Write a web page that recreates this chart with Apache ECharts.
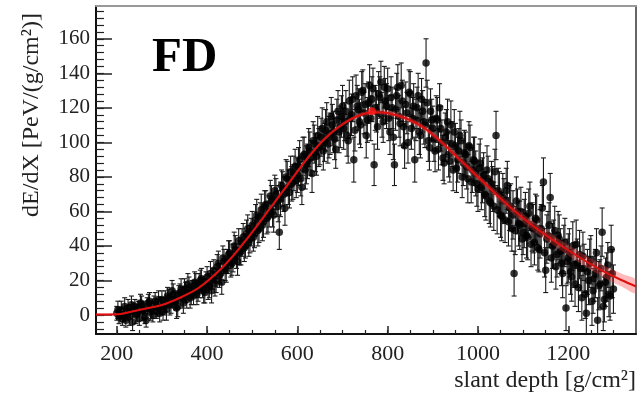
<!DOCTYPE html>
<html>
<head>
<meta charset="utf-8">
<script src="https://cdn.jsdelivr.net/npm/echarts@6/dist/echarts.min.js"></script>
<style>
html,body{margin:0;padding:0;background:#fff;}
#c{width:638px;height:398px;}
</style>
</head>
<body>
<div id="c"></div>
<script>
// slant depth of data points [g/cm2] (set A)
var depthX = [200,205,210,215,220,225,230,235,240,245,250,255,260,265,270,275,280,285,290,295,
300,305,310,315,320,325,330,335,340,345,350,355,360,365,370,375,380,385,390,395,
400,405,410,415,420,425,430,435,440,445,450,455,460,465,470,475,480,485,490,495,
500,505,510,515,520,525,530,535,540,545,550,555,560,565,570,575,580,585,590,595,
600,605,610,615,620,625,630,635,640,645,650,655,660,665,670,675,680,685,690,695,
700,705,710,715,720,725,730,735,740,745,750,755,760,765,770,775,780,785,790,795,
800,805,810,815,820,825,830,835,840,845,850,855,860,865,870,875,880,885,890,895,
900,905,910,915,920,925,930,935,940,945,950,955,960,965,970,975,980,985,990,995,
1000,1005,1010,1015,1020,1025,1030,1035,1040,1045,1050,1055,1060,1065,1070,1075,1080,1085,1090,1095,
1100,1105,1110,1115,1120,1125,1130,1135,1140,1145,1150,1155,1160,1165,1170,1175,1180,1185,1190,1195,
1200,1205,1210,1215,1220,1225,1230,1235,1240,1245,1250,1255,1260,1265,1270,1275,1280,1285,1290,1295,1300];
// dE/dX values [PeV/(g/cm2)] (set A)
var dEdX = [1,-1,3,0,-3,4,2,-4,5,1,-2,6,3,-3,7,2,0,8,4,1,
9,5,3,10,6,12,8,5,13,10,15,9,16,12,11,18,14,20,16,13,
22,17,14,26,20,30,24,33,27,31,36,30,40,34,43,37,45,40,50,44,
52,47,58,50,61,54,64,57,69,60,72,66,48,75,70,80,74,83,77,86,
81,90,74,93,87,97,91,101,94,104,98,108,100,112,103,115,106,96,118,109,
121,112,104,124,116,90,127,119,110,130,122,113,133,125,87,118,128,135,112,124,
131,106,120,87,127,115,133,109,122,100,128,114,90,120,106,125,112,146,101,118,
108,95,113,120,100,88,106,93,110,84,98,90,104,80,94,86,98,77,90,82,
73,88,78,70,84,66,76,63,104,72,58,68,55,75,62,50,24,66,53,60,
48,57,45,63,51,42,55,38,50,77,26,46,68,40,49,35,44,30,38,4,
33,25,40,18,30,35,10,27,1,20,32,14,24,-3,18,48,9,22,12,38,15];
var dEdXErr = [4,4,5,4,4,5,4,5,4,5,4,5,5,4,5,5,4,5,5,5,
5,5,6,5,5,6,5,6,5,6,6,5,6,6,5,6,6,6,6,6,
6,7,7,6,7,7,6,7,7,7,7,7,8,7,7,8,8,7,8,8,
8,8,9,8,9,9,8,9,9,9,9,9,10,9,10,10,10,9,10,10,
10,11,10,10,11,11,10,11,11,11,11,12,11,11,12,11,12,11,12,12,
12,11,12,12,12,13,12,12,13,12,12,13,12,13,12,12,13,12,12,13,
12,13,12,12,13,12,13,12,13,12,13,12,13,12,13,12,13,14,12,13,
13,12,13,14,13,12,13,13,14,12,13,13,14,12,13,13,14,12,13,13,
13,14,13,13,14,13,13,14,14,13,13,14,13,14,13,13,13,14,13,14,
13,14,13,14,14,13,14,13,14,14,13,14,14,13,14,13,14,13,14,13,
14,13,14,13,14,14,13,14,13,14,14,13,14,13,14,14,13,14,13,14,14];
// set B (interleaved points)
var depthX2 = [202.5,207.5,212.5,217.5,222.5,227.5,232.5,237.5,242.5,247.5,252.5,257.5,262.5,267.5,272.5,277.5,282.5,287.5,292.5,297.5,
302.5,307.5,312.5,317.5,322.5,327.5,332.5,337.5,342.5,347.5,352.5,357.5,362.5,367.5,372.5,377.5,382.5,387.5,392.5,397.5,
402.5,407.5,412.5,417.5,422.5,427.5,432.5,437.5,442.5,447.5,452.5,457.5,462.5,467.5,472.5,477.5,482.5,487.5,492.5,497.5,
502.5,507.5,512.5,517.5,522.5,527.5,532.5,537.5,542.5,547.5,552.5,557.5,562.5,567.5,572.5,577.5,582.5,587.5,592.5,597.5,
602.5,607.5,612.5,617.5,622.5,627.5,632.5,637.5,642.5,647.5,652.5,657.5,662.5,667.5,672.5,677.5,682.5,687.5,692.5,697.5,
702.5,707.5,712.5,717.5,722.5,727.5,732.5,737.5,742.5,747.5,752.5,757.5,762.5,767.5,772.5,777.5,782.5,787.5,792.5,797.5,
802.5,807.5,812.5,817.5,822.5,827.5,832.5,837.5,842.5,847.5,852.5,857.5,862.5,867.5,872.5,877.5,882.5,887.5,892.5,897.5,
902.5,907.5,912.5,917.5,922.5,927.5,932.5,937.5,942.5,947.5,952.5,957.5,962.5,967.5,972.5,977.5,982.5,987.5,992.5,997.5,
1002.5,1007.5,1012.5,1017.5,1022.5,1027.5,1032.5,1037.5,1042.5,1047.5,1052.5,1057.5,1062.5,1067.5,1072.5,1077.5,1082.5,1087.5,1092.5,1097.5,
1102.5,1107.5,1112.5,1117.5,1122.5,1127.5,1132.5,1137.5,1142.5,1147.5,1152.5,1157.5,1162.5,1167.5,1172.5,1177.5,1182.5,1187.5,1192.5,1197.5,
1202.5,1207.5,1212.5,1217.5,1222.5,1227.5,1232.5,1237.5,1242.5,1247.5,1252.5,1257.5,1262.5,1267.5,1272.5,1277.5,1282.5,1287.5,1292.5,1297.5];
var dEdX2 = [3,0,-2,5,1,-1,6,3,0,4,7,2,-1,5,8,3,6,2,9,5,
2,8,11,6,14,9,4,12,15,7,13,18,10,15,19,12,17,21,14,19,
16,24,21,18,28,23,19,31,26,35,29,33,38,31,36,42,39,47,42,48,
45,55,49,57,52,63,56,60,66,58,70,63,67,73,62,79,71,76,82,78,
86,79,92,84,89,95,82,99,92,97,103,95,107,99,105,110,102,113,106,115,
108,118,101,114,125,107,121,112,129,117,104,123,114,131,120,109,126,116,132,121,
114,126,103,119,132,111,124,98,117,129,108,121,113,127,104,118,110,123,97,113,
102,114,96,108,91,103,112,89,99,106,85,95,101,88,93,79,97,84,89,76,
85,74,81,69,79,65,73,83,61,70,57,66,72,54,63,58,49,60,52,44,
53,46,59,41,50,56,39,47,62,36,44,52,33,41,28,46,37,24,42,31,
36,22,29,41,16,27,34,12,25,30,8,21,36,17,27,5,19,29,11,24];
var dEdXErr2 = [5,4,4,5,4,5,5,4,5,4,5,5,4,5,5,5,5,4,5,5,
5,6,5,6,6,5,6,5,6,6,6,6,6,5,6,6,7,6,7,6,
7,7,6,7,7,7,7,7,7,8,7,8,8,8,7,8,8,8,8,8,
8,9,9,8,9,9,9,9,9,10,9,9,10,10,10,10,9,10,10,10,
11,10,11,11,10,11,11,11,11,11,11,11,12,11,12,12,12,12,12,12,
12,12,13,12,13,12,12,13,12,12,13,12,13,12,13,13,12,13,12,13,
13,12,13,12,13,13,12,13,12,13,12,13,12,13,13,12,13,13,13,12,
13,13,12,13,13,14,13,12,13,13,14,13,12,13,13,14,13,13,14,13,
14,13,13,14,13,14,13,13,14,13,14,13,13,14,13,14,14,13,14,13,
14,13,14,13,14,14,13,14,13,14,14,13,14,14,13,14,13,14,14,13,
14,14,13,14,14,13,14,14,13,14,14,13,14,14,13,14,14,13,14,14];
// Gaisser-Hillas fit curve
var fitX = [154,200,230,260,300,340,380,420,460,500,540,580,620,660,700,740,770,800,840,880,920,960,1000,1040,1080,1120,1160,1200,1240,1280,1320,1350];
var fitY = [0.3,0.4,1.8,3.5,5.8,10,15.5,24,35,48,62,76,90,102,110.5,116,117.5,117,114,108.5,100,90,80,70,60.5,52,44.5,37.5,31,25,20,16.5];
var fitHalfWidth = [0.5,0.5,0.5,0.5,0.5,0.5,0.6,0.6,0.7,0.7,0.8,0.8,0.9,1,1,1.2,1.3,1.4,1.5,1.6,1.7,1.9,2,2.2,2.4,2.6,2.8,3,3.2,3.5,3.8,4];
var xMajor = [200,400,600,800,1000,1200];
var xMinor = [200,250,300,350,400,450,500,550,600,650,700,750,800,850,900,950,1000,1050,1100,1150,1200,1250,1300];
var yMajor = [0,20,40,60,80,100,120,140,160];
var yMinor = [-8,-4,0,4,8,12,16,20,24,28,32,36,40,44,48,52,56,60,64,68,72,76,80,84,88,92,96,100,104,108,112,116,120,124,128,132,136,140,144,148,152,156,160,164,168,172,176];
var xMaxMarker = [[765,118]];

var points = depthX.map(function(x,i){return [x, dEdX[i], dEdXErr[i]];})
  .concat(depthX2.map(function(x,i){return [x, dEdX2[i], dEdXErr2[i]];}));
var fitLine = fitX.map(function(x,i){return [x, fitY[i]];});
var band = fitX.map(function(x,i){return [x, fitY[i]-fitHalfWidth[i], fitY[i]+fitHalfWidth[i]];});

var FONT = '"Liberation Serif","Times New Roman",serif';
var XMIN = 154, XMAX = 1350, YMIN = -11, YMAX = 179;
function plain(v){return String(v);}

var chart = echarts.init(document.getElementById('c'), null, {renderer:'canvas'});
var option = {
  animation:false,
  backgroundColor:'#fff',
  grid:{left:96,right:2,top:6,bottom:64,containLabel:false},
  xAxis:[
    {type:'value',position:'bottom',min:XMIN,max:XMAX,
     axisLine:{show:true,onZero:false,lineStyle:{color:'#111',width:2}},
     axisTick:{show:true,inside:true,length:8,customValues:xMajor,lineStyle:{color:'#222',width:1.5}},
     axisLabel:{show:true,customValues:xMajor,formatter:plain,fontFamily:FONT,fontSize:22,color:'#222',margin:9},
     splitLine:{show:false}},
    {type:'value',position:'bottom',min:XMIN,max:XMAX,
     axisLine:{show:false,onZero:false},
     axisTick:{show:true,inside:true,length:4,customValues:xMinor,lineStyle:{color:'#222',width:1.2}},
     axisLabel:{show:false},splitLine:{show:false}},
    {type:'value',position:'top',min:XMIN,max:XMAX,
     axisLine:{show:true,onZero:false,lineStyle:{color:'#999',width:2}},
     axisTick:{show:false},axisLabel:{show:false},splitLine:{show:false}}
  ],
  yAxis:[
    {type:'value',position:'left',min:YMIN,max:YMAX,
     axisLine:{show:true,onZero:false,lineStyle:{color:'#111',width:2}},
     axisTick:{show:true,inside:true,length:16,customValues:yMajor,lineStyle:{color:'#222',width:1.5}},
     axisLabel:{show:true,customValues:yMajor,formatter:plain,fontFamily:FONT,fontSize:21,color:'#222',margin:6},
     splitLine:{show:false}},
    {type:'value',position:'left',min:YMIN,max:YMAX,
     axisLine:{show:false,onZero:false},
     axisTick:{show:true,inside:true,length:8,customValues:yMinor,lineStyle:{color:'#222',width:1.2}},
     axisLabel:{show:false},splitLine:{show:false}},
    {type:'value',position:'right',min:YMIN,max:YMAX,
     axisLine:{show:true,onZero:false,lineStyle:{color:'#333',width:1.5}},
     axisTick:{show:false},axisLabel:{show:false},splitLine:{show:false}}
  ],
  series:[
    {type:'custom',name:'err',xAxisIndex:0,yAxisIndex:0,z:2,clip:true,
     data:points,
     encode:{x:0,y:1},
     renderItem:function(params,api){
       var x=api.value(0),y=api.value(1),e=api.value(2);
       var t=api.coord([x,y+e]), b=api.coord([x,y-e]);
       var st={stroke:'#1a1a1a',lineWidth:1.1};
       return {type:'group',children:[
         {type:'line',shape:{x1:t[0],y1:t[1],x2:b[0],y2:b[1]},style:st},
         {type:'line',shape:{x1:t[0]-2.5,y1:t[1],x2:t[0]+2.5,y2:t[1]},style:st},
         {type:'line',shape:{x1:b[0]-2.5,y1:b[1],x2:b[0]+2.5,y2:b[1]},style:st}
       ]};
     }},
    {type:'scatter',name:'data',xAxisIndex:0,yAxisIndex:0,z:3,
     data:points.map(function(p){return [p[0],p[1]];}),
     symbol:'circle',symbolSize:7.5,itemStyle:{color:'#000'}},
    {type:'custom',name:'band',xAxisIndex:0,yAxisIndex:0,z:4,clip:true,
     data:band,encode:{x:0,y:[1,2]},
     renderItem:function(params,api){
       if(params.dataIndex!==0) return null;
       var up=[],lo=[];
       for(var i=0;i<band.length;i++){
         up.push(api.coord([band[i][0],band[i][2]]));
         lo.unshift(api.coord([band[i][0],band[i][1]]));
       }
       return {type:'polygon',shape:{points:up.concat(lo),smooth:0.3},style:{fill:'rgba(255,60,60,0.35)'}};
     }},
    {type:'line',name:'fit',xAxisIndex:0,yAxisIndex:0,z:5,
     data:fitLine,smooth:0.3,showSymbol:false,
     lineStyle:{color:'#e01010',width:2}},
    {type:'scatter',name:'xmax',xAxisIndex:0,yAxisIndex:0,z:6,
     data:xMaxMarker,symbol:'circle',symbolSize:8,itemStyle:{color:'#ff1a1a'}}
  ],
  graphic:[
    {type:'text',left:152,top:34,style:{text:'FD',font:'bold 49px '+FONT,fill:'#000'},z:10},
    {type:'text',x:32,y:115,rotation:Math.PI/2,
     style:{text:'dE/dX [PeV/(g/cm²)]',font:'24px '+FONT,fill:'#222',align:'center',verticalAlign:'middle'},z:10},
    {type:'text',x:636,y:381,
     style:{text:'slant depth [g/cm²]',font:'24px '+FONT,fill:'#222',align:'right',verticalAlign:'middle'},z:10}
  ]
};
chart.setOption(option);
</script>
</body>
</html>
